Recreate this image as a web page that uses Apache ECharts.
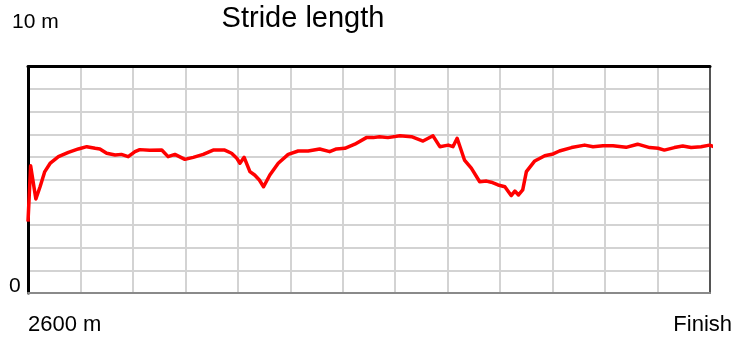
<!DOCTYPE html>
<html>
<head>
<meta charset="utf-8">
<title>Stride length</title>
<script src="https://cdn.jsdelivr.net/npm/echarts@6/dist/echarts.min.js"></script>
<style>
  html, body { margin: 0; padding: 0; background: #ffffff; }
  #chart { width: 735px; height: 337px; }
</style>
</head>
<body>
<div id="chart"></div>
<script>
// Distance along the race (m) and stride length (m) at that point
const distances = [
  2600, 2605, 2615, 2623, 2632, 2642, 2658, 2677, 2696, 2712,
  2728, 2737, 2750, 2766, 2778, 2791, 2804, 2813, 2832, 2855,
  2867, 2880, 2899, 2915, 2934, 2953, 2975, 2988, 2998, 3004,
  3012, 3023, 3032, 3041, 3049, 3061, 3077, 3096, 3115, 3134,
  3156, 3175, 3188, 3204, 3223, 3245, 3258, 3270, 3286, 3309,
  3331, 3353, 3372, 3385, 3401, 3410, 3418, 3432, 3445, 3461,
  3474, 3483, 3496, 3509, 3521, 3528, 3535, 3543, 3550, 3566,
  3585, 3601, 3613, 3636, 3661, 3677, 3696, 3715, 3740, 3762,
  3785, 3801, 3813, 3832, 3848, 3864, 3883, 3899, 3915
];
const strides = [
  3.15, 5.62, 4.15, 4.69, 5.36, 5.72, 6.02, 6.21, 6.36, 6.46,
  6.39, 6.36, 6.17, 6.09, 6.12, 6.02, 6.24, 6.33, 6.30, 6.31,
  6.02, 6.12, 5.90, 5.99, 6.12, 6.31, 6.31, 6.17, 5.95, 5.73,
  5.99, 5.36, 5.21, 4.99, 4.69, 5.21, 5.73, 6.12, 6.27, 6.27,
  6.36, 6.24, 6.36, 6.39, 6.57, 6.86, 6.86, 6.90, 6.86, 6.94,
  6.90, 6.71, 6.94, 6.46, 6.53, 6.46, 6.83, 5.87, 5.51, 4.91,
  4.94, 4.89, 4.77, 4.69, 4.30, 4.50, 4.33, 4.55, 5.36, 5.83,
  6.06, 6.14, 6.27, 6.42, 6.53, 6.46, 6.50, 6.50, 6.43, 6.57,
  6.42, 6.39, 6.31, 6.42, 6.49, 6.42, 6.46, 6.53, 6.39
];

// Axis extents and end labels
const xRange = [2600, 3900];
const xStep = 100;
const yRange = [0, 10];
const yStep = 1;
const xEndLabels = ['2600 m', 'Finish'];
const yEndLabels = ['0', '10 m'];
const chartTitle = 'Stride length';

const FONT = '"Liberation Sans", Arial, Helvetica, sans-serif';
const GRID_COLOR = '#d3d3d3';

const points = distances.map((d, i) => [d, strides[i]]);

function label(text, x, y, size, align) {
  return {
    type: 'text',
    x: x,
    y: y,
    silent: true,
    style: {
      text: text,
      fontSize: size,
      fontFamily: FONT,
      fill: '#000000',
      align: align,
      textAlign: align,
      verticalAlign: 'middle',
      textVerticalAlign: 'middle'
    }
  };
}

function frameAxis(extra, lineColor, lineWidth, withGrid) {
  return Object.assign({
    type: 'value',
    axisLine: { show: true, onZero: false, lineStyle: { color: lineColor, width: lineWidth } },
    axisTick: { show: false },
    axisLabel: { show: false },
    splitLine: withGrid
      ? { show: true, lineStyle: { color: GRID_COLOR, width: 2 } }
      : { show: false }
  }, extra);
}

const chart = echarts.init(document.getElementById('chart'), null, { renderer: 'canvas' });

chart.setOption({
  animation: false,
  backgroundColor: '#ffffff',
  grid: { left: 28, right: 25, top: 66.5, bottom: 44 },
  xAxis: [
    frameAxis({ position: 'bottom', min: xRange[0], max: xRange[1], interval: xStep }, '#8a8a8a', 2, true),
    frameAxis({ position: 'top', min: xRange[0], max: xRange[1], interval: xStep }, '#000000', 3, false)
  ],
  yAxis: [
    frameAxis({ position: 'left', min: yRange[0], max: yRange[1], interval: yStep }, '#000000', 3, true),
    frameAxis({ position: 'right', min: yRange[0], max: yRange[1], interval: yStep }, '#555555', 2, false)
  ],
  series: [
    {
      type: 'line',
      data: points,
      xAxisIndex: 0,
      yAxisIndex: 0,
      showSymbol: false,
      clip: false,
      lineStyle: { color: '#ff0000', width: 3.5, join: 'round' },
      z: 5
    }
  ],
  graphic: [
    label(chartTitle, 303, 18.5, 29, 'center'),
    label(yEndLabels[1], 12, 22.5, 21, 'left'),
    label(yEndLabels[0], 9, 286, 21, 'left'),
    label(xEndLabels[0], 28, 324.5, 22, 'left'),
    label(xEndLabels[1], 732, 324.5, 22, 'right')
  ]
});
</script>
</body>
</html>
